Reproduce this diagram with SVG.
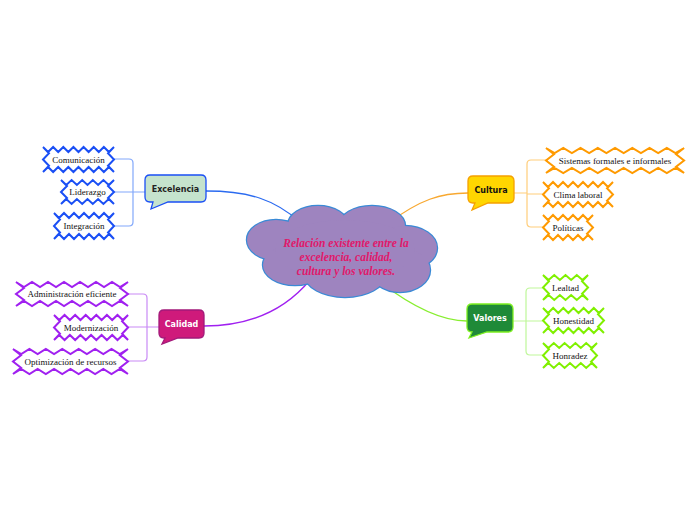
<svg xmlns="http://www.w3.org/2000/svg" width="696" height="520" viewBox="0 0 696 520">
<style>
.zz{fill:#fff;stroke-width:2;stroke-linejoin:miter}
.b{stroke:#1a4ff5}.p{stroke:#a020f0}.o{stroke:#ff9a00}.g{stroke:#80f000}
.ct{font-family:"Liberation Serif",serif;font-size:9px;fill:#111;text-anchor:middle}
.nt{font-family:"DejaVu Sans",sans-serif;font-weight:bold;font-size:8px;text-anchor:middle}
.ln{fill:none;stroke-width:1.3}
.br{fill:none;stroke-width:1.2}
.cl{fill:#9e84bf}
</style>
<rect width="696" height="520" fill="#fff"/>
<g id="connectors">
<path class="ln" stroke="#2a6af0" d="M206,191 C250,191 275,200 300,222"/>
<path class="ln" stroke="#f8a830" d="M468,193 C440,193 420,200 390,222"/>
<path class="ln" stroke="#a020f0" d="M204,326 C250,326 285,310 310,280"/>
<path class="ln" stroke="#88ee30" d="M467,321 C440,321 410,305 380,282"/>
<path class="br" stroke="#82a8fb" d="M114,159 H129 Q133,159 133,163 V222 Q133,226 129,226 H114 M114,192 H145"/>
<path class="br" stroke="#c98af5" d="M128,294 H143 Q147,294 147,298 V357 Q147,361 143,361 H128 M128,327 H159"/>
<path class="br" stroke="#ffcd7a" d="M514,193 H527 M547,160 H531 Q527,160 527,164 V223 Q527,227 531,227 H543 M527,194 H543"/>
<path class="br" stroke="#bff79a" d="M513,321 H526 M543,288 H530 Q526,288 526,292 V351 Q526,355 530,355 H543 M526,321 H543"/>
</g>
<g id="central">
<g stroke="#3a8ad6" stroke-width="2.4" class="cl">
<ellipse cx="276" cy="240" rx="29" ry="20"/>
<ellipse cx="318" cy="225" rx="30" ry="19"/>
<ellipse cx="372" cy="226" rx="33" ry="20"/>
<ellipse cx="405" cy="248" rx="32" ry="22"/>
<ellipse cx="400" cy="270" rx="30" ry="22"/>
<ellipse cx="345" cy="275" rx="40" ry="22"/>
<ellipse cx="295" cy="265" rx="32" ry="20"/>
</g>
<g class="cl">
<ellipse cx="276" cy="240" rx="29" ry="20"/>
<ellipse cx="318" cy="225" rx="30" ry="19"/>
<ellipse cx="372" cy="226" rx="33" ry="20"/>
<ellipse cx="405" cy="248" rx="32" ry="22"/>
<ellipse cx="400" cy="270" rx="30" ry="22"/>
<ellipse cx="345" cy="275" rx="40" ry="22"/>
<ellipse cx="295" cy="265" rx="32" ry="20"/>
<ellipse cx="345" cy="250" rx="70" ry="30"/>
</g>
<g font-family="Liberation Serif,serif" font-style="italic" font-weight="bold" font-size="11.5" fill="#e0196a" text-anchor="middle">
<text x="346" y="247">Relación existente entre la</text>
<text x="346" y="261">excelencia, calidad,</text>
<text x="346" y="274.5">cultura y los valores.</text>
</g>
</g>
<g id="excelencia">
<path fill="#c5e3cd" stroke="#1a4ff5" stroke-width="1.3" d="M150,175 H201 Q206,175 206,180 V197 Q206,202 201,202 H168 L151,209 L153,202 H150 Q145,202 145,197 V180 Q145,175 150,175 Z"/>
<text class="nt" x="175.5" y="192" fill="#222">Excelencia</text>
</g>
<g id="calidad">
<path fill="#cf1a7b" stroke="#a3197a" stroke-width="1.3" d="M164,310 H199 Q204,310 204,315 V333 Q204,338 199,338 H178 L162,344 L165,338 H164 Q159,338 159,333 V315 Q159,310 164,310 Z"/>
<text class="nt" x="181.5" y="327" fill="#fff">Calidad</text>
</g>
<g id="cultura">
<path fill="#ffd600" stroke="#f5a000" stroke-width="1.3" d="M473,176 H509 Q514,176 514,181 V198 Q514,203 509,203 H488 L472,210 L475,203 H473 Q468,203 468,198 V181 Q468,176 473,176 Z"/>
<text class="nt" x="491" y="193" fill="#111">Cultura</text>
</g>
<g id="valores">
<path fill="#1f8a38" stroke="#7ef020" stroke-width="1.3" d="M472,304 H508 Q513,304 513,309 V327 Q513,332 508,332 H487 L469,338 L472,332 Q467,332 467,327 V309 Q467,304 472,304 Z"/>
<text class="nt" x="490" y="321" fill="#fff">Valores</text>
</g>
<g id="comunicacion">
<path class="zz b" d="M43,147 l5.07,5 5.07,-5 5.07,5 5.07,-5 5.07,5 5.07,-5 5.07,5 5.07,-5 5.07,5 5.07,-5 5.07,5 5.07,-5 5.07,5 5.07,-5 -6,6.25 6,6.25 -6,6.25 6,6.25 -5.07,-5 -5.07,5 -5.07,-5 -5.07,5 -5.07,-5 -5.07,5 -5.07,-5 -5.07,5 -5.07,-5 -5.07,5 -5.07,-5 -5.07,5 -5.07,-5 -5.07,5 6,-6.25 -6,-6.25 6,-6.25 -6,-6.25z"/>
<text class="ct" x="78.5" y="162.5">Comunicación</text>
</g>
<g id="liderazgo">
<path class="zz b" d="M61,180 l5.3,5 5.3,-5 5.3,5 5.3,-5 5.3,5 5.3,-5 5.3,5 5.3,-5 5.3,5 5.3,-5 -6,6 6,6 -6,6 6,6 -5.3,-5 -5.3,5 -5.3,-5 -5.3,5 -5.3,-5 -5.3,5 -5.3,-5 -5.3,5 -5.3,-5 -5.3,5 6,-6 -6,-6 6,-6 -6,-6z"/>
<text class="ct" x="87.5" y="195">Liderazgo</text>
</g>
<g id="integracion">
<path class="zz b" d="M54,213 l5,5 5,-5 5,5 5,-5 5,5 5,-5 5,5 5,-5 5,5 5,-5 5,5 5,-5 -6,6.5 6,6.5 -6,6.5 6,6.5 -5,-5 -5,5 -5,-5 -5,5 -5,-5 -5,5 -5,-5 -5,5 -5,-5 -5,5 -5,-5 -5,5 6,-6.5 -6,-6.5 6,-6.5 -6,-6.5z"/>
<text class="ct" x="84" y="229">Integración</text>
</g>
<g id="administracion">
<path class="zz p" d="M16,282 l8,5 8,-5 8,5 8,-5 8,5 8,-5 8,5 8,-5 8,5 8,-5 8,5 8,-5 8,5 8,-5 -8,6 8,6 -8,6 8,6 -8,-5 -8,5 -8,-5 -8,5 -8,-5 -8,5 -8,-5 -8,5 -8,-5 -8,5 -8,-5 -8,5 -8,-5 -8,5 8,-6 -8,-6 8,-6 -8,-6z"/>
<text class="ct" x="72" y="297">Administración eficiente</text>
</g>
<g id="modernizacion">
<path class="zz p" d="M54,315 l5.29,5 5.29,-5 5.29,5 5.29,-5 5.29,5 5.29,-5 5.29,5 5.29,-5 5.29,5 5.29,-5 5.29,5 5.29,-5 5.29,5 5.29,-5 -6,6.25 6,6.25 -6,6.25 6,6.25 -5.29,-5 -5.29,5 -5.29,-5 -5.29,5 -5.29,-5 -5.29,5 -5.29,-5 -5.29,5 -5.29,-5 -5.29,5 -5.29,-5 -5.29,5 -5.29,-5 -5.29,5 6,-6.25 -6,-6.25 6,-6.25 -6,-6.25z"/>
<text class="ct" x="91" y="330.5">Modernización</text>
</g>
<g id="optimizacion">
<path class="zz p" d="M13,349 l8.21,5 8.21,-5 8.21,5 8.21,-5 8.21,5 8.21,-5 8.21,5 8.21,-5 8.21,5 8.21,-5 8.21,5 8.21,-5 8.21,5 8.21,-5 -8,6.25 8,6.25 -8,6.25 8,6.25 -8.21,-5 -8.21,5 -8.21,-5 -8.21,5 -8.21,-5 -8.21,5 -8.21,-5 -8.21,5 -8.21,-5 -8.21,5 -8.21,-5 -8.21,5 -8.21,-5 -8.21,5 8,-6.25 -8,-6.25 8,-6.25 -8,-6.25z"/>
<text class="ct" x="70.5" y="364.5">Optimización de recursos</text>
</g>
<g id="sistemas">
<path class="zz o" d="M546,148 l8.63,5 8.63,-5 8.63,5 8.63,-5 8.63,5 8.63,-5 8.63,5 8.63,-5 8.63,5 8.63,-5 8.63,5 8.63,-5 8.63,5 8.63,-5 8.63,5 8.63,-5 -8,6.25 8,6.25 -8,6.25 8,6.25 -8.63,-5 -8.63,5 -8.63,-5 -8.63,5 -8.63,-5 -8.63,5 -8.63,-5 -8.63,5 -8.63,-5 -8.63,5 -8.63,-5 -8.63,5 -8.63,-5 -8.63,5 -8.63,-5 -8.63,5 8,-6.25 -8,-6.25 8,-6.25 -8,-6.25z"/>
<text class="ct" x="615" y="163.5">Sistemas formales e informales</text>
</g>
<g id="clima">
<path class="zz o" d="M543,182 l5,5 5,-5 5,5 5,-5 5,5 5,-5 5,5 5,-5 5,5 5,-5 5,5 5,-5 5,5 5,-5 -6,6.25 6,6.25 -6,6.25 6,6.25 -5,-5 -5,5 -5,-5 -5,5 -5,-5 -5,5 -5,-5 -5,5 -5,-5 -5,5 -5,-5 -5,5 -5,-5 -5,5 6,-6.25 -6,-6.25 6,-6.25 -6,-6.25z"/>
<text class="ct" x="578" y="197.5">Clima laboral</text>
</g>
<g id="politicas">
<path class="zz o" d="M543,215 l5,5 5,-5 5,5 5,-5 5,5 5,-5 5,5 5,-5 5,5 5,-5 -6,6.25 6,6.25 -6,6.25 6,6.25 -5,-5 -5,5 -5,-5 -5,5 -5,-5 -5,5 -5,-5 -5,5 -5,-5 -5,5 6,-6.25 -6,-6.25 6,-6.25 -6,-6.25z"/>
<text class="ct" x="568" y="230.5">Políticas</text>
</g>
<g id="lealtad">
<path class="zz g" d="M543,275 l5.63,5 5.63,-5 5.63,5 5.63,-5 5.63,5 5.63,-5 5.63,5 5.63,-5 -6,6.25 6,6.25 -6,6.25 6,6.25 -5.63,-5 -5.63,5 -5.63,-5 -5.63,5 -5.63,-5 -5.63,5 -5.63,-5 -5.63,5 6,-6.25 -6,-6.25 6,-6.25 -6,-6.25z"/>
<text class="ct" x="565.5" y="290.5">Lealtad</text>
</g>
<g id="honestidad">
<path class="zz g" d="M543,308 l5.08,5 5.08,-5 5.08,5 5.08,-5 5.08,5 5.08,-5 5.08,5 5.08,-5 5.08,5 5.08,-5 5.08,5 5.08,-5 -6,6.25 6,6.25 -6,6.25 6,6.25 -5.08,-5 -5.08,5 -5.08,-5 -5.08,5 -5.08,-5 -5.08,5 -5.08,-5 -5.08,5 -5.08,-5 -5.08,5 -5.08,-5 -5.08,5 6,-6.25 -6,-6.25 6,-6.25 -6,-6.25z"/>
<text class="ct" x="573.5" y="323.5">Honestidad</text>
</g>
<g id="honradez">
<path class="zz g" d="M543,343 l5.4,5 5.4,-5 5.4,5 5.4,-5 5.4,5 5.4,-5 5.4,5 5.4,-5 5.4,5 5.4,-5 -6,6.25 6,6.25 -6,6.25 6,6.25 -5.4,-5 -5.4,5 -5.4,-5 -5.4,5 -5.4,-5 -5.4,5 -5.4,-5 -5.4,5 -5.4,-5 -5.4,5 6,-6.25 -6,-6.25 6,-6.25 -6,-6.25z"/>
<text class="ct" x="570" y="358.5">Honradez</text>
</g>
</svg>
